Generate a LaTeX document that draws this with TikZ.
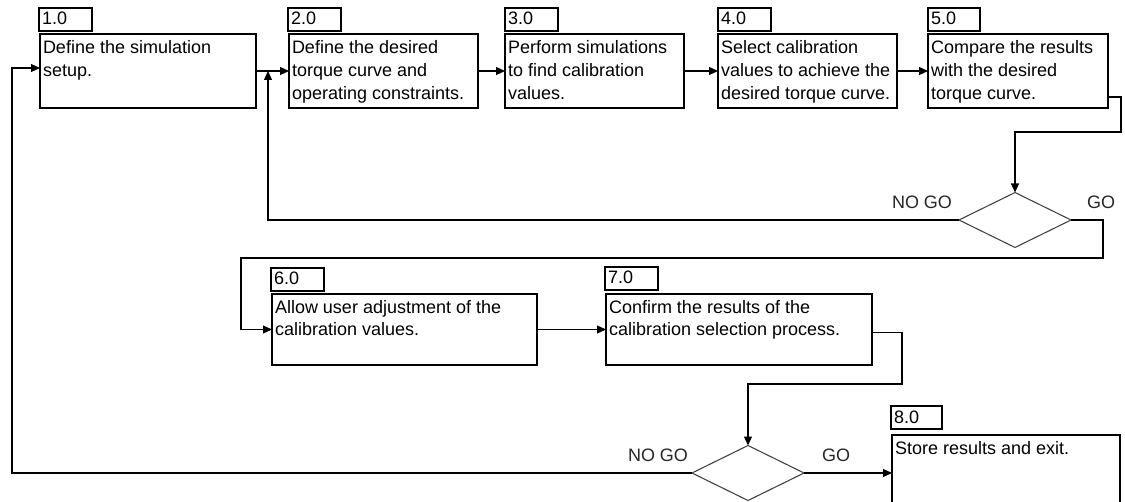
\documentclass[tikz,border=0pt]{standalone}
\usepackage{fontspec}
\setmainfont{Liberation Sans}
\usetikzlibrary{arrows.meta,shapes.geometric}

% one screen pixel
\newdimen\pxu \pxu=0.75pt
% box text: width, height, first-baseline depth (in pixels), text
\newcommand{\boxtext}[4]{\parbox[c][#2\pxu][t]{#1\pxu}{\leftskip=3\pxu\rightskip=0pt plus 1fil\rule{0pt}{#3\pxu}#4}}

\begin{document}
\begin{tikzpicture}[x=0.75pt,y=-0.75pt,
  txt/.style={font={\fontsize{13.5pt}{17.25pt}\selectfont}},
  proc/.style={txt,draw=black,line width=0.8pt,inner sep=0pt,outer sep=0pt,anchor=north west},
  tag/.style={proc},
  decision/.style={diamond,draw=black!75,line width=0.8pt,inner sep=0pt,outer sep=0pt,
    minimum width=84pt,minimum height=41.25pt},
  lbl/.style={txt,inner sep=0pt,text=black!85},
  flow/.style={draw=black,line width=0.8pt,-{Triangle[length=6.75pt,width=6pt]}}]

\useasboundingbox (0,0) rectangle (1125,502);
\clip (0,0) rectangle (1125,502);
\fill[white] (0,0) rectangle (1125,502);

% first row of steps
\node[proc] (b1) at (40,34)  {\boxtext{216}{74}{20}{Define the simulation\\setup.}};
\node[proc] (b2) at (289,34) {\boxtext{189}{74}{20}{Define the desired\\torque curve and\\operating constraints.}};
\node[proc] (b3) at (505,34) {\boxtext{179}{74}{20}{Perform simulations\\to find calibration\\values.}};
\node[proc] (b4) at (718,34) {\boxtext{179}{74}{20}{Select calibration\\values to achieve the\\desired torque curve.}};
\node[proc] (b5) at (928,34) {\boxtext{180}{74}{20}{Compare the results\\with the desired\\torque curve.}};

\node[tag] (l1) at (39,8)  {\boxtext{53}{23}{17}{1.0}};
\node[tag] (l2) at (288,8) {\boxtext{53}{23}{17}{2.0}};
\node[tag] (l3) at (505,8) {\boxtext{53}{23}{17}{3.0}};
\node[tag] (l4) at (718,8) {\boxtext{53}{23}{17}{4.0}};
\node[tag] (l5) at (928,8) {\boxtext{52}{23}{17}{5.0}};

% second row of steps
\node[proc] (b6) at (272,294) {\boxtext{265}{71}{19}{Allow user adjustment of the\\calibration values.}};
\node[proc] (b7) at (606,294) {\boxtext{266}{71}{19}{Confirm the results of the\\calibration selection process.}};
\node[proc] (b8) at (892,435) {\boxtext{228}{76}{19}{Store results and exit.}};

\node[tag] (l6) at (271,268) {\boxtext{53}{23}{17}{6.0}};
\node[tag] (l7) at (605,267) {\boxtext{53}{23}{17}{7.0}};
\node[tag] (l8) at (891,406) {\boxtext{51}{23}{17}{8.0}};

% decisions
\node[decision] (d1) at (1015,220) {};
\node[decision] (d2) at (748,473) {};

\node[lbl] (ng1) at (922,202) {NO GO};
\node[lbl] (g1)  at (1101,202) {GO};
\node[lbl] (ng2) at (658,455) {NO GO};
\node[lbl] (g2)  at (836,455) {GO};

% routing corners
\coordinate (j12) at (268,71);
\coordinate (r5) at (1121,132);
\coordinate (r1) at (1103,258);
\coordinate (r2) at (241,258);
\coordinate (r3) at (902,384);
\coordinate (r4) at (12,473);

% connectors
\draw[flow] (b1.east) -- (b2.west);
\draw[flow] (b2.east) -- (b3.west);
\draw[flow] (b3.east) -- (b4.west);
\draw[flow] (b4.east) -- (b5.west);
\draw[flow] ([yshift=-19.5pt]b5.east) -| (r5) -| (d1.north);
\draw[flow] (d1.west) -| (j12);
\draw[flow] (d1.east) -| (r1) -- (r2) |- (b6.west);
\draw[flow] (b6.east) -- (b7.west);
\draw[flow] ([yshift=-2.6pt]b7.east) -| (r3) -| (d2.north);
\draw[flow] (d2.east) -- (b8.west);
\draw[flow] (d2.west) -- (r4) |- ([yshift=2.25pt]b1.west);

\end{tikzpicture}
\end{document}
